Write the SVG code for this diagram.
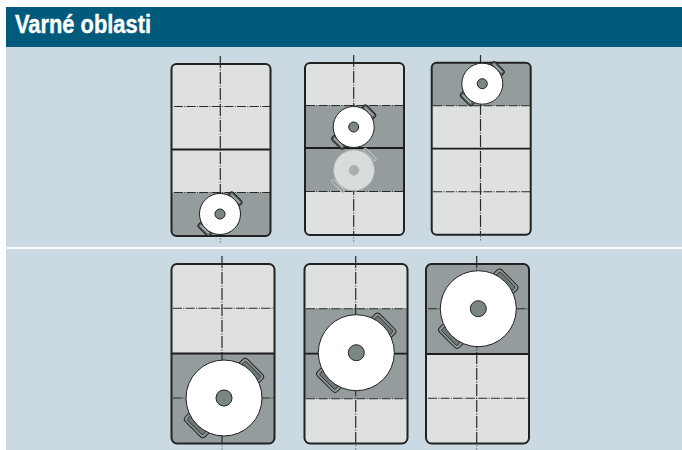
<svg xmlns="http://www.w3.org/2000/svg" width="682" height="450" viewBox="0 0 682 450">
<style>
.outline{fill:none;stroke:#222;stroke-width:2}
.base{fill:#dfe1e1}
.band{fill:#949c9d}
.dh{fill:none;stroke:#2a2a2a;stroke-width:1.100;stroke-dasharray:9 1.300 1 1.300}
.dv{fill:none;stroke:#2a2a2a;stroke-width:1.200;stroke-dasharray:12 1.500 1 1.500}
.dot{fill:none;stroke:#6f7778;stroke-width:1;stroke-dasharray:1.500 1.500}
.solid{fill:none;stroke:#1c1c1c;stroke-width:1.800}
.disc{fill:#fff;stroke:#222;stroke-width:1}
.hub{fill:#7b8687;stroke:#222;stroke-width:1}
.hd{fill:#555e5f;stroke:#222;stroke-width:1}
.hi{fill:#a3aaab;stroke:none}
.hb{fill:#8f9798;stroke:#222;stroke-width:1}
.hc{fill:#6d7778;stroke:#222;stroke-width:.8}
.ghost{fill:none;stroke:#bfc4c4;stroke-width:1}
text{font-family:"Liberation Sans",Arial,sans-serif;font-weight:bold;fill:#fff;stroke:#fff;stroke-width:.4}
</style>
<defs>
<g id="potS">
<g transform="rotate(-45)"><rect class="hd" x="17" y="-8" width="7.500" height="16" rx="2"/><rect class="hi" x="21" y="-6" width="1.800" height="12"/><rect class="hd" x="-24.500" y="-8" width="7.500" height="16" rx="2"/><rect class="hi" x="-22.800" y="-6" width="1.800" height="12"/></g>
<circle class="disc" r="20.500"/><circle class="hub" r="5"/>
</g>
<g id="potB">
<g transform="rotate(-45)"><rect class="hb" x="30" y="-14" width="14" height="28" rx="3.500"/><rect class="hc" x="35" y="-11" width="6.500" height="22" rx="1.500"/><rect class="hb" x="-44" y="-14" width="14" height="28" rx="3.500"/><rect class="hc" x="-41.500" y="-11" width="6.500" height="22" rx="1.500"/></g>
<circle class="disc" r="38"/><circle class="hub" r="8"/>
</g>
</defs>
<rect x="6" y="47" width="676" height="403" fill="#cbd9e2"/>
<rect x="6" y="7" width="676" height="40" fill="#005a7c"/>
<rect x="7" y="247" width="675" height="2" fill="#fff"/>
<text x="15" y="33" font-size="25.500" textLength="136" lengthAdjust="spacingAndGlyphs">Varné oblasti</text>

<g id="connectors"/>

<g id="panel-1">
<rect class="base" x="171.500" y="64" width="99" height="172" rx="5"/>
<path class="band" d="M171.500 192.500H270.500V231a5 5 0 0 1-5 5H176.500a5 5 0 0 1-5-5Z"/>
<path class="dv" d="M220.300 56V236"/><path class="dot" d="M220.300 238V244"/>
<path class="dh" d="M174 106.500H271M174 192.500H271"/>
<path class="solid" d="M171.500 149.500H270.500"/>
<rect class="outline" x="171.500" y="64" width="99" height="172" rx="5"/>
<use href="#potS" x="220" y="214"/>
</g>

<g id="panel-2">
<rect class="base" x="305" y="63" width="99" height="172" rx="5"/>
<rect class="band" x="305" y="105.500" width="99" height="86"/>
<path class="dv" d="M353.700 55V235"/><path class="dot" d="M353.700 237V243"/>
<path class="dh" d="M306 105.500H404M306 191.500H404"/>
<path class="solid" d="M305 148H404"/>
<rect class="outline" x="305" y="63" width="99" height="172" rx="5"/>
<use href="#potS" x="353.700" y="127"/>
<g id="pot-ghost" transform="translate(354 170.300)">
<g transform="rotate(-45)"><rect class="ghost" x="21" y="-8" width="3" height="16" rx="1"/><rect class="ghost" x="-24" y="-8" width="3" height="16" rx="1"/></g>
<circle r="20.500" fill="#d9dcdc" stroke="#a9afaf"/><circle r="5" fill="#a9afb0" stroke="#b5baba"/>
</g>
</g>

<g id="panel-3">
<rect class="base" x="431.700" y="62.700" width="99" height="172" rx="5"/>
<path class="band" d="M436.700 62.700H525.700a5 5 0 0 1 5 5V105.700H431.700V67.700a5 5 0 0 1 5-5Z"/>
<path class="dv" d="M480.500 55V234"/><path class="dot" d="M480.500 236V242"/>
<path class="dh" d="M433 105.700H530.700M433 191.700H530.700"/>
<path class="solid" d="M431.700 148.700H530.700"/>
<rect class="outline" x="431.700" y="62.700" width="99" height="172" rx="5"/>
<use href="#potS" x="482.300" y="83.700"/>
</g>

<g id="panel-4">
<rect class="base" x="171.500" y="264" width="103" height="179.500" rx="5.500"/>
<path class="band" d="M171.500 353.500H274.500V438a5.500 5.500 0 0 1-5.500 5.500H177a5.500 5.500 0 0 1-5.500-5.500Z"/>
<path class="dv" d="M222 256V443"/><path class="dot" d="M222 445V450"/>
<path class="dh" d="M173 308.300H274.500M173 398H274.500"/>
<path class="solid" d="M171.500 353.500H274.500"/>
<rect class="outline" x="171.500" y="264" width="103" height="179.500" rx="5.500"/>
<use href="#potB" x="224" y="398"/>
</g>

<g id="panel-5">
<rect class="base" x="304.500" y="264" width="103" height="179.500" rx="5.500"/>
<rect class="band" x="304.500" y="308.700" width="103" height="90"/>
<path class="dv" d="M355.700 256V443"/><path class="dot" d="M355.700 445V450"/>
<path class="dh" d="M306 308.700H407.500M306 398.700H407.500"/>
<path class="solid" d="M304.500 353.700H407.500"/>
<rect class="outline" x="304.500" y="264" width="103" height="179.500" rx="5.500"/>
<use href="#potB" x="356.300" y="352.700"/>
</g>

<g id="panel-6">
<rect class="base" x="426" y="264" width="103" height="179.500" rx="5.500"/>
<path class="band" d="M431.500 264H523.500a5.500 5.500 0 0 1 5.500 5.500V354H426V269.500a5.500 5.500 0 0 1 5.500-5.500Z"/>
<path class="dv" d="M476.700 256V443"/><path class="dot" d="M476.700 445V450"/>
<path class="dh" d="M428 308.700H529M428 398.300H529"/>
<path class="solid" d="M426 354H529"/>
<rect class="outline" x="426" y="264" width="103" height="179.500" rx="5.500"/>
<use href="#potB" x="478.300" y="308.700"/>
</g>
</svg>
